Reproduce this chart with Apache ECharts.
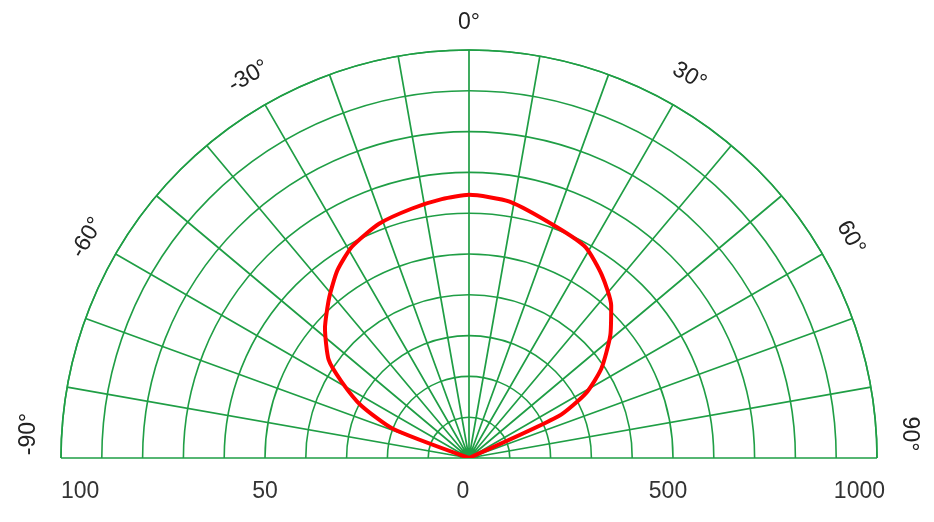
<!DOCTYPE html>
<html><head><meta charset="utf-8">
<script src="https://cdn.jsdelivr.net/npm/echarts@6/dist/echarts.min.js"></script>
<style>html,body{margin:0;padding:0;background:#fff}#c{width:934px;height:522px}</style>
</head><body><div id="c"></div>
<script>
// Red intensity curve (angle in degrees, radius on a 0-100 scale)
const curveAngles = [-90, -69, -64, -59, -55, -48, -41, -35, -29, -21, -13, -6, 0, 9, 21, 29, 36, 43, 49, 56, 61, 65, 90];
const curveRadii  = [0, 20, 29.5, 36.5, 42, 47.5, 52.2, 56.2, 59.2, 61.5, 62.7, 63.8, 64.5, 63.6, 60.5, 59, 55.4, 51.1, 45.9, 39.1, 32.8, 24.3, 0];
// Angle labels shown round the arc
const angleLabels = [-90, -60, -30, 0, 30, 60, 90];
// Bottom scale labels: left half runs 0-100, right half runs 0-1000
const leftTicks = [100, 50];
const leftMax = 100;
const centerTick = '0';
const rightTicks = [500, 1000];
const rightMax = 1000;

const R_MAX = 100;
const GREEN = '#1f9e45';
const chart = echarts.init(document.getElementById('c'));
const data = curveAngles.map((a, i) => [curveRadii[i], a]);

chart.setOption({
  backgroundColor: '#fff',
  animation: false,
  polar: { center: [469, 458], radius: 408 },
  angleAxis: {
    type: 'value', min: -90, max: 90, interval: 10,
    startAngle: 180, endAngle: 0, clockwise: true,
    axisLine: { show: true, lineStyle: { color: GREEN, width: 1.6 } },
    axisTick: { show: false }, axisLabel: { show: false },
    splitLine: { show: true, lineStyle: { color: GREEN, width: 1.7 } }
  },
  radiusAxis: {
    type: 'value', min: 0, max: R_MAX, interval: 10,
    axisLine: { show: false }, axisTick: { show: false }, axisLabel: { show: false },
    splitLine: { show: true, lineStyle: { color: GREEN, width: 1.6 } }
  },
  series: [{
    type: 'line', coordinateSystem: 'polar', data: data,
    symbol: 'none', smooth: 0.2,
    lineStyle: { color: '#ff0000', width: 4 }, z: 5
  }]
});

const center = chart.convertToPixel({ polarIndex: 0 }, [0, 0]);
const FONT = '23px "Liberation Sans", Arial, sans-serif';
const graphics = [];
angleLabels.forEach(a => {
  const p = chart.convertToPixel({ polarIndex: 0 }, [108, a]);
  const y = Math.min(p[1] + (a === 0 ? 5 : 0), center[1] - 24);
  graphics.push({
    type: 'text', x: p[0], y: y, rotation: -a * Math.PI / 180,
    style: { text: a + '°', font: FONT, fill: '#222', align: 'center', verticalAlign: 'middle' }
  });
});
const labelY = center[1] + 34;
leftTicks.forEach((v, i) => {
  const p = chart.convertToPixel({ polarIndex: 0 }, [v / leftMax * R_MAX, -90]);
  graphics.push({ type: 'text', x: p[0], y: labelY,
    style: { text: String(v), font: FONT, fill: '#333', align: v === leftMax ? 'left' : 'center', verticalAlign: 'middle' } });
});
graphics.push({ type: 'text', x: center[0] - 6, y: labelY,
  style: { text: centerTick, font: FONT, fill: '#333', align: 'center', verticalAlign: 'middle' } });
rightTicks.forEach(v => {
  const p = chart.convertToPixel({ polarIndex: 0 }, [v / rightMax * R_MAX, 90]);
  graphics.push({ type: 'text', x: p[0] + (v === rightMax ? 8 : -5), y: labelY,
    style: { text: String(v), font: FONT, fill: '#333', align: v === rightMax ? 'right' : 'center', verticalAlign: 'middle' } });
});
chart.setOption({ graphic: graphics });
</script></body></html>
